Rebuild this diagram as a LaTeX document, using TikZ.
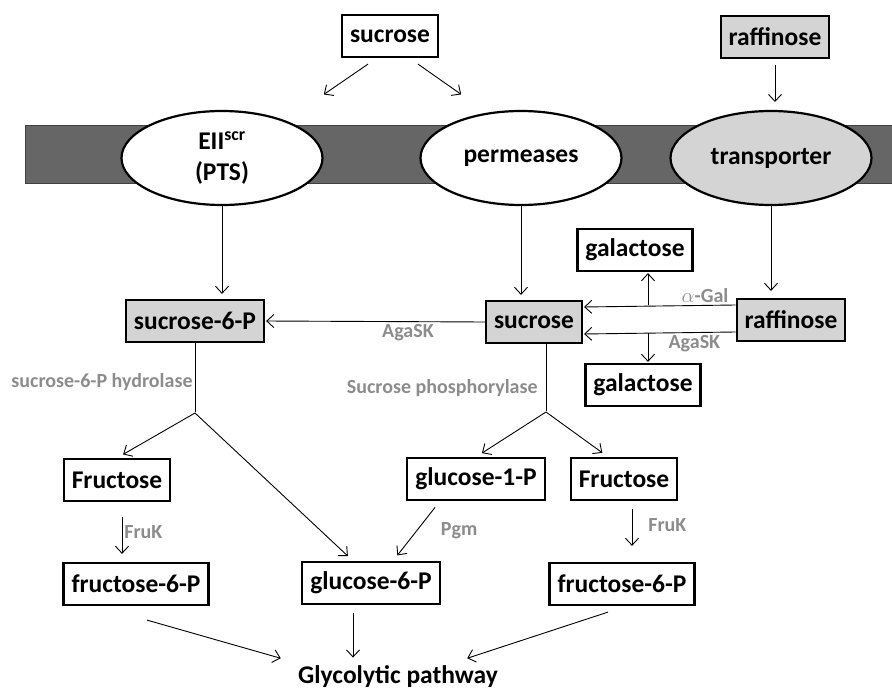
\documentclass[tikz,border=0pt]{standalone}
\usepackage{fontspec}
\setmainfont{Carlito}
\usepackage{tikz}
\usetikzlibrary{arrows.meta}
\usetikzlibrary{shapes.geometric,positioning}
\definecolor{boxgrey}{HTML}{D4D4D4}
\definecolor{membrane}{HTML}{666666}
\definecolor{labelgrey}{HTML}{8C8C8C}

\begin{document}
\begin{tikzpicture}[x=1pt,y=-1pt,>={Straight Barb[length=7pt,width=13pt]},shorten >=1pt,
                    line width=0.9pt,
                    box/.style={draw,line width=2.2pt,fill=white,inner xsep=8pt,minimum height=42pt,
                                font=\bfseries\fontsize{25.5}{29}\selectfont},
                    grey box/.style={box,fill=boxgrey},
                    channel/.style={ellipse,draw,line width=2.2pt,fill=white,inner sep=0pt,
                                minimum width=201pt,minimum height=94pt,align=center,
                                font=\bfseries\fontsize{25.5}{31}\selectfont},
                    enzyme/.style={font=\bfseries\fontsize{20}{24}\selectfont,text=labelgrey,inner sep=2pt}]
  \useasboundingbox (0,0) rectangle (892,690);

  % cell membrane
  \fill[membrane,draw=black!75,line width=0.6pt] (25,125) rectangle (892,183);

  % outside
  \node[box] (sucT) at (390,36) {sucrose};
  \node[grey box] (rafT) at (775,37) {raffinose};
  \coordinate (in1) at (323,95);
  \coordinate (in2) at (462,95);
  \coordinate (in3) at (775,103);

  % uptake
  \node[channel] (eii) at (222,158) {EII\textsuperscript{scr}\\(PTS)};
  \node[channel] (perm) at (521,158) {permeases};
  \node[channel,fill=boxgrey] (trans) at (771,158) {transporter};

  % inside
  \node[grey box] (s6p) at (195,321) {sucrose-6-P};
  \node[grey box] (suc) at (534,322) {sucrose};
  \node[grey box] (raf) at (791,320) {raffinose};
  \node[box] (gal1) at (635,250) {galactose};
  \node[box] (gal2) at (643,385) {galactose};
  \node[box] (fru1) at (117,480) {Fructose};
  \node[box] (glu1p) at (476,479) {glucose-1-P};
  \node[box] (fru2) at (624,479) {Fructose};
  \node[box] (f6p1) at (136,584) {fructose-6-P};
  \node[box] (g6p) at (371,583) {glucose-6-P};
  \node[box] (f6p2) at (622,584) {fructose-6-P};
  \node[inner sep=0pt,font=\bfseries\fontsize{25.5}{29}\selectfont] (gly) at (398,677) {Glycolytic pathway};

  \coordinate (b1) at (195,413);
  \coordinate (b2) at (546,412);
  \coordinate (ga) at (648,305);
  \coordinate (gb) at (648,333);

  \path[->]
    ([xshift=-22pt,yshift=-6pt]sucT.south) edge (in1)
    ([xshift=28pt,yshift=-6pt]sucT.south) edge (in2)
    ([yshift=-6pt]rafT.south) edge (in3)
    (eii.south) edge[shorten >=5pt] (eii.south |- s6p.north)
    (perm.south) edge[shorten >=5pt] (perm.south |- suc.north)
    (trans.south) edge[shorten >=7pt] (trans.south |- raf.north)
    (suc.west) edge node[enzyme,below,pos=.35] {AgaSK} (s6p.east)
    ([yshift=15pt]raf.west) edge node[enzyme,above,pos=.2] {$\alpha$-Gal} ([yshift=15pt]suc.east)
    ([yshift=-12pt]raf.west) edge node[enzyme,below,pos=.27] {AgaSK} ([yshift=-12pt]suc.east)
    (ga) edge (ga |- gal1.south)
    (gb) edge (gb |- gal2.north);

  \draw (s6p.south) -- node[enzyme,left,pos=.56] {sucrose-6-P hydrolase} (b1);
  \draw (b2 |- suc.south) -- node[enzyme,left=6pt,pos=.64] {Sucrose phosphorylase} (b2);

  \path[->,shorten >=7pt]
    (b1) edge (fru1.north)
    (b1) edge ([xshift=-18pt]g6p.north)
    (b2) edge (glu1p.north)
    (b2) edge ([xshift=-16pt]fru2.north)
    ([xshift=5pt]fru1.south) edge[shorten <=15pt,shorten >=8pt] node[enzyme,right,pos=.5] {FruK}
        ([xshift=5pt]fru1.south |- f6p1.north)
    ([xshift=-36pt]glu1p.south) edge[shorten <=8pt] node[enzyme,right=22pt] {Pgm}
        ([xshift=22pt]g6p.north)
    ([xshift=8pt]fru2.south) edge[shorten <=8pt,shorten >=16pt] node[enzyme,right=14pt,pos=.4] {FruK}
        ([xshift=8pt]fru2.south |- f6p2.north)
    ([xshift=11pt,yshift=-14pt]f6p1.south) edge[shorten >=1pt] ([xshift=-16pt,yshift=7pt]gly.north west)
    ([xshift=-18pt,yshift=-8pt]g6p.south) edge[shorten >=1pt] ([xshift=-18pt,yshift=7pt]g6p.south |- gly.north)
    ([xshift=-14pt,yshift=-6pt]f6p2.south) edge[shorten >=1pt] ([xshift=-32pt,yshift=7pt]gly.north east);
\end{tikzpicture}
\end{document}
